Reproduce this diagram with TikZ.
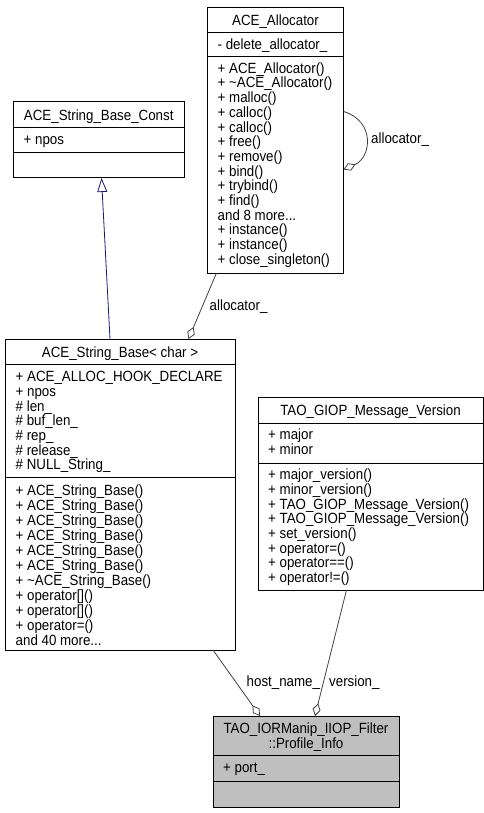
\documentclass[tikz,border=0pt]{standalone}
\usepackage{fontspec}
\setmainfont[FakeStretch=0.9]{Liberation Sans}
\usetikzlibrary{arrows.meta}
\definecolor{edgegray}{HTML}{404040}
\definecolor{navyblue}{HTML}{191970}
\definecolor{fillgray}{HTML}{BFBFBF}
\newcommand{\rowstrut}{\rule{0pt}{11.5pt}}

\begin{document}
\begin{tikzpicture}[x=1pt,y=-1pt,
	box/.style={draw=black,line width=1pt,anchor=north west,inner sep=0pt,outer sep=0pt},
	rows/.style={anchor=north west,align=left,inner sep=0pt,font=\fontsize{14.8}{14.7}\selectfont},
	head/.style={anchor=north,align=center,inner sep=0pt,font=\fontsize{14.8}{14.7}\selectfont},
	rel/.style={draw=edgegray,line width=0.8pt},
	agg/.style={rel,-{Diamond[open,length=13pt,width=8pt]}},
	inh/.style={draw=navyblue,line width=0.8pt,-{Triangle[open,length=14pt,width=10pt]}},
	lbl/.style={anchor=base west,inner sep=0pt,font=\fontsize{14.8}{14.7}\selectfont}]
	\useasboundingbox (0,0) rectangle (484,813);
	\node[box,minimum width=136pt,minimum height=265.5pt] (alloc) at (207.5,7.5) {};
	\draw (alloc.north west) ++(0,24.5) -- ++(136,0) ++(-136,24.5) -- ++(136,0);
	\node[head] (allocname) at (275.5,14) {\rowstrut ACE\_Allocator};
	\node[rows] (allocattr) at (217.5,38) {\rowstrut - delete\_allocator\_};
	\node[rows] (allocops) at (217.5,61.5) {\rowstrut + ACE\_Allocator()\\+ \textasciitilde ACE\_Allocator()\\+ malloc()\\+ calloc()\\+ calloc()\\+ free()\\+ remove()\\+ bind()\\+ trybind()\\+ find()\\and 8 more...\\+ instance()\\+ instance()\\+ close\_singleton()};
	\node[box,minimum width=170.5pt,minimum height=76pt] (strconst) at (13.5,102) {};
	\draw (strconst.north west) ++(0,25) -- ++(170.5,0) ++(-170.5,25) -- ++(170.5,0);
	\node[head] (strconstname) at (98.75,108.5) {\rowstrut ACE\_String\_Base\_Const};
	\node[rows] (strconstattr) at (23.5,133) {\rowstrut + npos};
	\node[box,minimum width=230pt,minimum height=311pt] (strbase) at (5,339) {};
	\draw (strbase.north west) ++(0,25) -- ++(230,0) ++(-230,113) -- ++(230,0);
	\node[head] (strbasename) at (120,345.5) {\rowstrut ACE\_String\_Base< char >};
	\node[rows] (strbaseattr) at (15.5,370) {\rowstrut + ACE\_ALLOC\_HOOK\_DECLARE\\+ npos\\\# len\_\\\# buf\_len\_\\\# rep\_\\\# release\_\\\# NULL\_String\_};
	\node[rows,font=\fontsize{14.8}{15}\selectfont] (strbaseops) at (15.5,483.5) {\rowstrut + ACE\_String\_Base()\\+ ACE\_String\_Base()\\+ ACE\_String\_Base()\\+ ACE\_String\_Base()\\+ ACE\_String\_Base()\\+ ACE\_String\_Base()\\+ \textasciitilde ACE\_String\_Base()\\+ operator[]()\\+ operator[]()\\+ operator=()\\and 40 more...};
	\node[box,minimum width=225pt,minimum height=193pt] (giop) at (258,397) {};
	\draw (giop.north west) ++(0,26) -- ++(225,0) ++(-225,40) -- ++(225,0);
	\node[head] (giopname) at (370.5,404) {\rowstrut TAO\_GIOP\_Message\_Version};
	\node[rows] (giopattr) at (268,428) {\rowstrut + major\\+ minor};
	\node[rows] (giopops) at (268,468) {\rowstrut + major\_version()\\+ minor\_version()\\+ TAO\_GIOP\_Message\_Version()\\+ TAO\_GIOP\_Message\_Version()\\+ set\_version()\\+ operator=()\\+ operator==()\\+ operator!=()};
	\node[box,fill=fillgray,minimum width=186pt,minimum height=91pt] (profile) at (213,716) {};
	\draw (profile.north west) ++(0,39) -- ++(186,0) ++(-186,26) -- ++(186,0);
	\node[head] (profilename) at (306,722) {\rowstrut TAO\_IORManip\_IIOP\_Filter\\::Profile\_Info};
	\node[rows] (profileattr) at (223,760.5) {\rowstrut + port\_};
	\draw[inh] ([xshift=105pt]strbase.north west) -- ([xshift=88pt]strconst.south west);
	\draw[agg] ([xshift=9pt]alloc.south west) -- ([xshift=183.5pt]strbase.north west);
	\node[lbl] (allocbase) at (209.5,310) {allocator\_};
	\draw[agg] ([yshift=-104pt]alloc.north east) .. controls +(32,9.5) and +(28,-12) .. ([yshift=-162pt]alloc.north east);
	\node[lbl] (allocself) at (371,143.5) {allocator\_};
	\draw[agg] ([xshift=208pt]strbase.south west) -- ([xshift=47pt]profile.north west);
	\node[lbl] (hostname) at (246.5,686) {host\_name\_};
	\draw[agg] ([xshift=88.5pt]giop.south west) -- ([xshift=102pt]profile.north west);
	\node[lbl] (version) at (329,686) {version\_};
\end{tikzpicture}
\end{document}
